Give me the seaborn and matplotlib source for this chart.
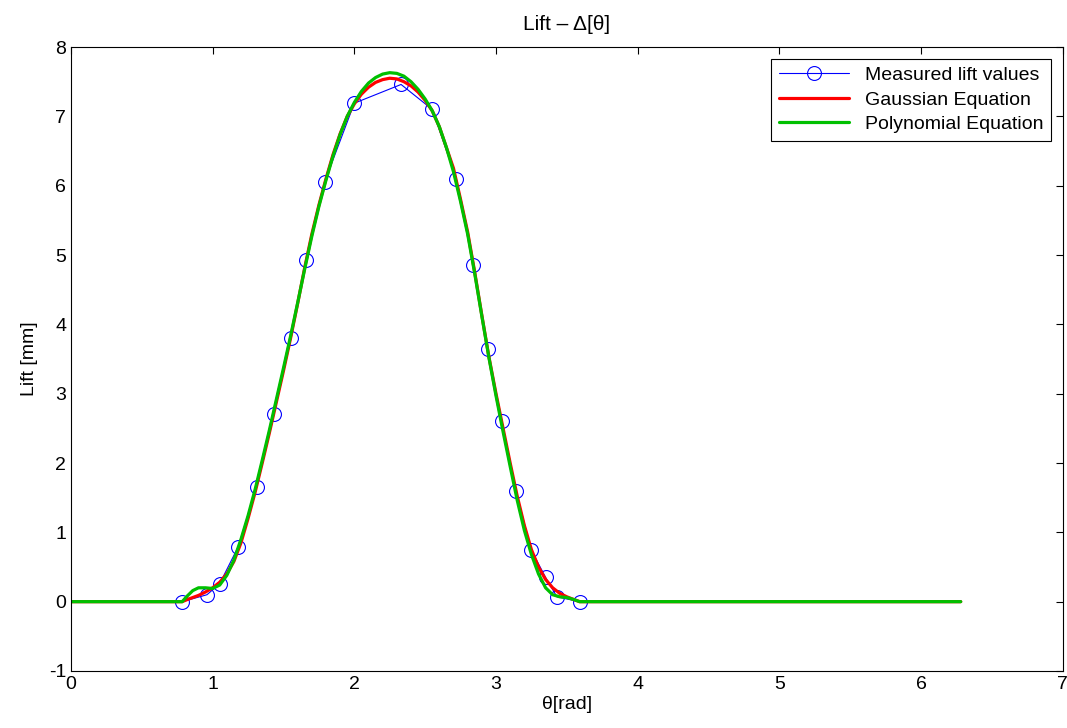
import numpy as np
import pandas as pd
import matplotlib
matplotlib.use('Agg')
import matplotlib.pyplot as plt
import seaborn as sns

# measured lift points
theta_meas = [0.785, 0.96, 1.05, 1.18, 1.31, 1.43, 1.55, 1.66, 1.79, 2.00, 2.33,
              2.55, 2.72, 2.84, 2.94, 3.04, 3.14, 3.25, 3.35, 3.43, 3.59]
lift_meas = [0.00, 0.10, 0.26, 0.79, 1.66, 2.70, 3.80, 4.93, 6.05, 7.19, 7.46,
             7.10, 6.10, 4.85, 3.64, 2.60, 1.60, 0.74, 0.35, 0.07, 0.00]

# fitted curves
theta_fit = [0.0, 0.785, 0.82, 0.86, 0.90, 0.95, 1.00, 1.05, 1.10, 1.15, 1.20, 1.25,
             1.30, 1.35, 1.40, 1.45, 1.50, 1.55, 1.60, 1.65, 1.70, 1.75, 1.80,
             1.85, 1.90, 1.95, 2.00, 2.05, 2.10, 2.15, 2.20, 2.25, 2.30, 2.35,
             2.40, 2.45, 2.50, 2.55, 2.60, 2.65, 2.70, 2.75, 2.80, 2.85, 2.90,
             2.95, 3.00, 3.05, 3.10, 3.15, 3.20, 3.25, 3.30, 3.35, 3.40, 3.45,
             3.50, 3.55, 3.59, 6.28]
lift_gauss = [0.0, 0.0, 0.03, 0.06, 0.09, 0.14, 0.20, 0.28, 0.40, 0.58, 0.85, 1.20,
              1.58, 2.00, 2.43, 2.88, 3.33, 3.80, 4.30, 4.82, 5.30, 5.72, 6.10,
              6.45, 6.75, 7.00, 7.18, 7.32, 7.42, 7.49, 7.53, 7.55, 7.54, 7.50,
              7.44, 7.35, 7.23, 7.08, 6.85, 6.55, 6.25, 5.80, 5.33, 4.75, 4.13,
              3.53, 3.00, 2.50, 2.00, 1.52, 1.10, 0.75, 0.50, 0.32, 0.20, 0.12,
              0.07, 0.03, 0.0, 0.0]
lift_poly = [0.0, 0.0, 0.08, 0.16, 0.20, 0.20, 0.19, 0.24, 0.38, 0.60, 0.90, 1.24,
             1.62, 2.04, 2.47, 2.92, 3.37, 3.83, 4.31, 4.80, 5.27, 5.70, 6.08,
             6.43, 6.74, 7.00, 7.20, 7.36, 7.48, 7.56, 7.61, 7.63, 7.62, 7.58,
             7.50, 7.39, 7.25, 7.08, 6.85, 6.55, 6.20, 5.77, 5.30, 4.73, 4.12,
             3.52, 2.97, 2.45, 1.95, 1.46, 1.03, 0.68, 0.40, 0.20, 0.10, 0.07,
             0.06, 0.03, 0.0, 0.0]

sns.set_style('white')
plt.rcParams['font.family'] = ['Liberation Sans', 'DejaVu Sans']
plt.rcParams['xtick.direction'] = 'in'
plt.rcParams['ytick.direction'] = 'in'
plt.rcParams['text.color'] = 'black'
plt.rcParams['axes.labelcolor'] = 'black'
plt.rcParams['xtick.color'] = 'black'
plt.rcParams['ytick.color'] = 'black'
plt.rcParams['axes.unicode_minus'] = False

fig = plt.figure(figsize=(10.67, 7.28), dpi=100)
ax = fig.add_axes([0.0665, 0.0783, 0.9295, 0.8571])

sns.lineplot(x=theta_meas, y=lift_meas, ax=ax, color='blue', lw=0.8, marker='o',
             markersize=10, mfc='none', mec='blue', mew=0.8, estimator=None,
             sort=False, label='Measured lift values')
sns.lineplot(x=theta_fit, y=lift_gauss, ax=ax, color='red', lw=2.3, estimator=None,
             sort=False, label='Gaussian Equation')
sns.lineplot(x=theta_fit, y=lift_poly, ax=ax, color='#00c000', lw=2.3, estimator=None,
             sort=False, label='Polynomial Equation')

ax.set_xlim(0, 7)
ax.set_ylim(-1, 8)
ax.set_xticks(range(0, 8))
ax.set_yticks(range(-1, 9))
ax.tick_params(labelsize=14, top=True, right=True, length=5, width=0.8)
for s in ax.spines.values():
    s.set_color('black')
    s.set_linewidth(0.8)
ax.set_title('Lift – Δ[θ]', fontsize=15, pad=12)
ax.set_xlabel('θ[rad]', fontsize=14, labelpad=2)
ax.set_ylabel('Lift [mm]', fontsize=14, labelpad=8)

leg = ax.legend(loc='upper right', fontsize=14, fancybox=False, framealpha=1,
                edgecolor='black', borderaxespad=0.6, handlelength=3.6,
                borderpad=0.4, labelspacing=0.35)
leg.get_frame().set_linewidth(0.8)

fig.savefig('out.png', dpi=100)
